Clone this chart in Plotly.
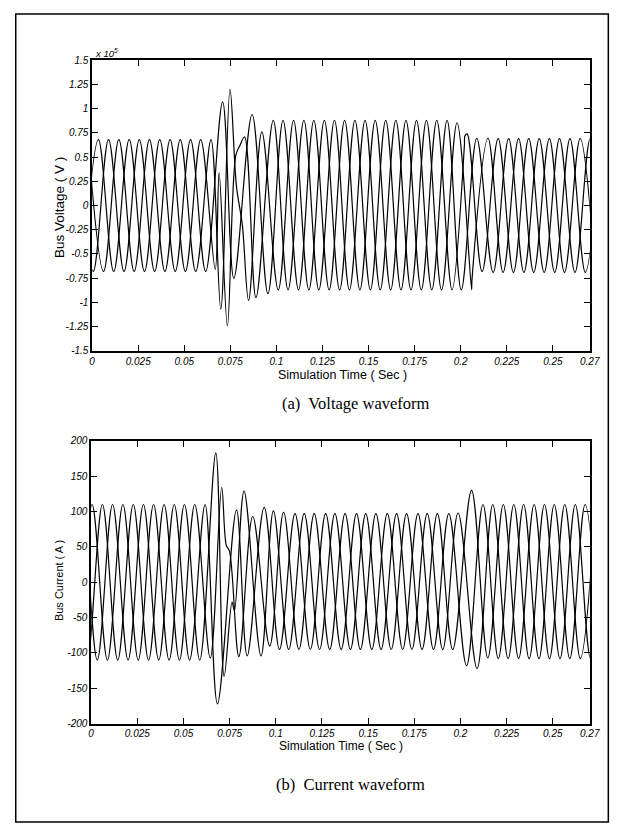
import plotly.graph_objects as go

# ---------------- DATA ----------------
# Time of each waveform extremum / shape point, in ms; values of bus voltage in units of 1e5 V
volt_a_t = [-4.9, 3.4, 11.7, 20.1, 28.4, 36.7, 45.1, 53.4, 61.6,
            70.8, 76.9, 86.8, 95.4,
            103.6, 112.0, 120.3, 128.6, 137.0, 145.3, 153.6, 162.0, 170.3, 178.6, 187.0, 195.3,
            202.0, 202.3, 203.5,
            211.6, 220.3, 228.6, 236.9, 245.3, 253.6, 262.0, 270.3, 278.6]
volt_a_v = [-0.68, 0.68, -0.68, 0.68, -0.68, 0.68, -0.68, 0.68, -0.68,
            1.07, -0.75, 0.94, -0.91,
            0.88, -0.87, 0.88, -0.87, 0.88, -0.87, 0.88, -0.87, 0.88, -0.87, 0.88, -0.87,
            0.62, 0.72, 0.74,
            -0.68, 0.69, -0.69, 0.69, -0.69, 0.69, -0.69, 0.69, -0.69]

volt_b_t = [-7.8, 0.6, 8.9, 17.3, 25.6, 33.9, 42.3, 50.6, 58.9,
            66.8, 68.9, 73.4, 78.0, 80.2, 82.7, 88.9,
            98.3, 106.3, 114.9, 123.0, 131.5, 139.6, 148.1, 156.3, 164.8, 173.0, 181.4, 189.6, 198.0,
            205.9, 206.1,
            214.8, 223.0, 231.4, 239.6, 248.1, 256.3, 264.8, 273.0]
volt_b_v = [0.68, -0.68, 0.68, -0.68, 0.68, -0.68, 0.68, -0.68, 0.68,
            -0.66, 0.34, -1.24, 0.52, 0.62, 0.71, -0.95,
            0.88, -0.87, 0.88, -0.87, 0.88, -0.87, 0.88, -0.87, 0.88, -0.87, 0.88, -0.87, 0.855,
            -0.87, -0.77,
            0.695, -0.69, 0.69, -0.69, 0.69, -0.69, 0.69, -0.69]

volt_c_t = [-2.2, 6.2, 14.5, 22.8, 31.1, 39.5, 47.8, 56.2, 64.5,
            69.8, 74.8, 78.3, 81.5, 84.9, 92.1,
            101.0, 109.3, 117.6, 126.0, 134.3, 142.6, 151.0, 159.3, 167.6, 176.0, 184.3, 192.6, 200.3,
            208.7, 217.6, 226.0, 234.3, 242.6, 251.0, 259.3, 267.6, 276.0]
volt_c_v = [0.68, -0.68, 0.68, -0.68, 0.68, -0.68, 0.68, -0.68, 0.68,
            -1.07, 1.2, 0.2, -0.2, -0.98, 0.76,
            -0.87, 0.88, -0.87, 0.88, -0.87, 0.88, -0.87, 0.88, -0.87, 0.88, -0.87, 0.88, -0.87,
            0.695, -0.69, 0.69, -0.69, 0.69, -0.69, 0.69, -0.69, 0.69]

# Bus current (A)
curr_a_t = [-16.2, -7.8, 0.5, 8.8, 17.2, 25.5, 33.8, 42.2, 50.5, 58.8,
            67.5, 72.0, 76.3, 77.6, 82.8, 92.0, 98.7,
            107.0, 115.4, 123.7, 132.0, 140.4, 148.7, 157.0, 165.4, 173.7, 182.0, 190.4, 198.7,
            209.0, 217.5, 225.8, 234.2, 242.5, 250.8, 259.2, 267.5, 275.8]
curr_a_v = [110, -110, 110, -110, 110, -110, 110, -110, 110, -110,
            183, -133, -28, -40, 129, -104, 101,
            -95, 97, -95, 97, -95, 97, -95, 97, -95, 97, -95, 98,
            -122, 110, -108, 110, -108, 110, -108, 110, -108]

curr_b_t = [-10.6, -2.2, 6.1, 14.4, 22.8, 31.1, 39.5, 47.8, 56.1,
            64.5, 70.7, 73.2, 74.9, 80.0, 87.5, 96.7,
            104.2, 112.5, 120.8, 129.2, 137.5, 145.8, 154.2, 162.5, 170.8, 179.2, 187.5, 195.8,
            206.0, 214.8, 223.2, 231.5, 239.9, 248.2, 256.5, 264.9, 273.2]
curr_b_v = [110, -110, 110, -110, 110, -110, 110, -110, 110,
            -107, 134, 52, 44, -105, 93, -90,
            99, -95, 97, -95, 97, -95, 97, -95, 97, -95, 97, -95,
            130, -107, 110, -108, 110, -108, 110, -108, 110]

curr_c_t = [-13.4, -5.1, 3.3, 11.6, 20.0, 28.3, 36.6, 45.0, 53.3, 61.7,
            68.4, 78.7, 84.5, 93.7,
            102.0, 110.4, 118.7, 127.0, 135.4, 143.7, 152.0, 160.4, 168.7, 177.0, 185.4, 193.7,
            203.3, 212.2, 220.5, 228.9, 237.2, 245.5, 253.9, 262.2, 270.5, 278.9]
curr_c_v = [-110, 110, -110, 110, -110, 110, -110, 110, -110, 110,
            -172, 102, -104, 106,
            -95, 97, -95, 97, -95, 97, -95, 97, -95, 97, -95, 97,
            -118, 110, -108, 110, -108, 110, -108, 110, -108, 110]

x_tickvals = [0, 0.025, 0.05, 0.075, 0.1, 0.125, 0.15, 0.175, 0.2, 0.225, 0.25, 0.27]
x_ticktext = ["0", "0.025", "0.05", "0.075", "0.1", "0.125", "0.15", "0.175", "0.2", "0.225", "0.25", "0.27"]
v_tickvals = [1.5, 1.25, 1, 0.75, 0.5, 0.25, 0, -0.25, -0.5, -0.75, -1, -1.25, -1.5]
v_ticktext = ["1.5", "1.25", "1", "0.75", "0.5", "0.25", "0", "-0.25", "-0.5", "-0.75", "-1", "-1.25", "-1.5"]
i_tickvals = [200, 150, 100, 50, 0, -50, -100, -150, -200]
i_ticktext = ["200", "150", "100", "50", "0", "-50", "-100", "-150", "-200"]

# ---------------- FIGURE ----------------
W, H = 634, 832
def fx(p):
    return p / W
def fy(p):
    return 1 - p / H

fig = go.Figure()
line = dict(color="black", width=1.2, shape="spline", smoothing=1)
for tl, vl in [(volt_a_t, volt_a_v), (volt_b_t, volt_b_v), (volt_c_t, volt_c_v)]:
    fig.add_trace(go.Scatter(x=[t / 1000 for t in tl], y=vl, mode="lines", line=line,
                             xaxis="x", yaxis="y", showlegend=False, hoverinfo="skip"))
for tl, vl in [(curr_a_t, curr_a_v), (curr_b_t, curr_b_v), (curr_c_t, curr_c_v)]:
    fig.add_trace(go.Scatter(x=[t / 1000 for t in tl], y=vl, mode="lines", line=line,
                             xaxis="x2", yaxis="y2", showlegend=False, hoverinfo="skip"))

tickfont = dict(family="Liberation Sans, Arial", size=10, color="black", style="italic")
common = dict(showline=True, linecolor="black", linewidth=1.5, mirror="ticks",
              ticks="inside", ticklen=6, tickcolor="black", tickwidth=1,
              showgrid=False, zeroline=False, tickfont=tickfont, fixedrange=True)

fig.update_layout(
    width=W, height=H,
    margin=dict(l=0, r=0, t=0, b=0),
    paper_bgcolor="white", plot_bgcolor="white",
    xaxis=dict(domain=[fx(91), fx(599)], range=[0, 0.27], anchor="y",
               tickmode="array", tickvals=x_tickvals, ticktext=x_ticktext, **common),
    yaxis=dict(domain=[fy(350.5), fy(56)], range=[-1.5, 1.5], anchor="x",
               tickmode="array", tickvals=v_tickvals, ticktext=v_ticktext, **common),
    xaxis2=dict(domain=[fx(90), fx(599)], range=[0, 0.27], anchor="y2",
                tickmode="array", tickvals=x_tickvals, ticktext=x_ticktext, **common),
    yaxis2=dict(domain=[fy(728.3), fy(441.7)], range=[-200, 200], anchor="x2",
                tickmode="array", tickvals=i_tickvals, ticktext=i_ticktext, **common),
)

sans = "Liberation Sans, Arial"
serif = "Liberation Serif, Times New Roman"
annos = [
    dict(x=fx(57), y=fy(205), text="Bus Voltage ( V )", textangle=-90,
         font=dict(family=sans, size=13.5, color="black")),
    dict(x=fx(57), y=fy(583), text="Bus Current ( A )", textangle=-90,
         font=dict(family=sans, size=11, color="black")),
    dict(x=fx(347), y=fy(375), text="Simulation Time ( Sec )",
         font=dict(family=sans, size=12.5, color="black")),
    dict(x=fx(345), y=fy(751), text="Simulation Time ( Sec )",
         font=dict(family=sans, size=12, color="black")),
    dict(x=fx(360), y=fy(404), text="(a)  Voltage waveform",
         font=dict(family=serif, size=16.5, color="black")),
    dict(x=fx(355), y=fy(790), text="(b)  Current waveform",
         font=dict(family=serif, size=16.5, color="black")),
    dict(x=fx(92), y=fy(49), text="x 10<sup>5</sup>", xanchor="left",
         font=dict(family=sans, size=9.5, color="black", style="italic")),
]
for a in annos:
    a.setdefault("xanchor", "center")
    a.update(xref="paper", yref="paper", yanchor="middle", showarrow=False)
fig.update_layout(annotations=annos)

fig.add_shape(type="rect", xref="paper", yref="paper",
              x0=fx(13), x1=fx(618), y0=fy(828), y1=fy(9),
              line=dict(color="black", width=1.5))

fig.write_html("out.html")
